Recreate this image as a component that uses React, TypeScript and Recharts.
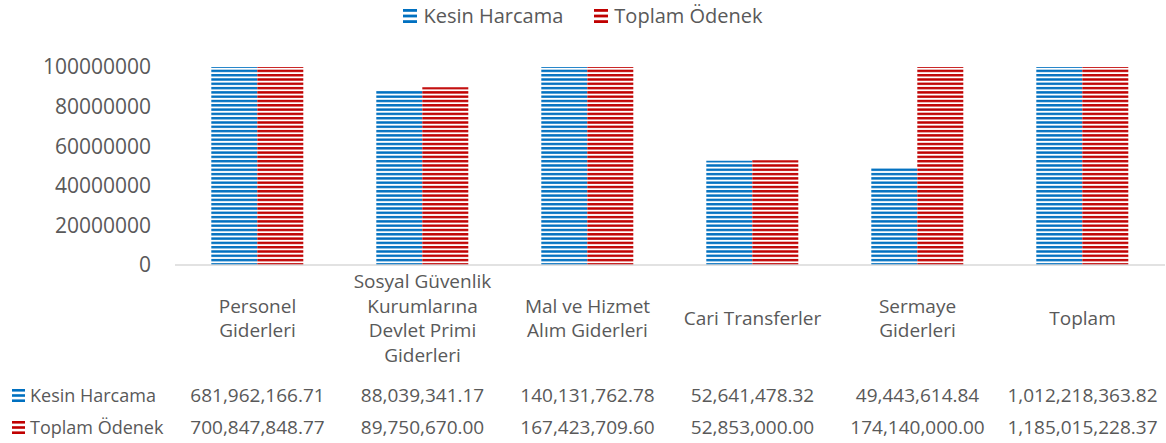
import React from 'react';
import { BarChart, Bar, XAxis, YAxis } from 'recharts';

const categories = [
  'Personel\nGiderleri',
  'Sosyal Güvenlik\nKurumlarına\nDevlet Primi\nGiderleri',
  'Mal ve Hizmet\nAlım Giderleri',
  'Cari Transferler',
  'Sermaye\nGiderleri',
  'Toplam',
];
const kesinHarcama = [681962166.71, 88039341.17, 140131762.78, 52641478.32, 49443614.84, 1012218363.82];
const toplamOdenek = [700847848.77, 89750670.0, 167423709.6, 52853000.0, 174140000.0, 1185015228.37];
const yTicks = [0, 20000000, 40000000, 60000000, 80000000, 100000000];

const seriesNames = ['Kesin Harcama', 'Toplam Ödenek'];
const BLUE = '#0070C0';
const RED = '#C00000';
const TEXT = '#595959';
const FONT = '"Open Sans", sans-serif';

const data = categories.map((name, i) => ({
  name,
  kesin: kesinHarcama[i],
  toplam: toplamOdenek[i],
}));

const fmt = (v: number) =>
  v.toLocaleString('en-US', { minimumFractionDigits: 2, maximumFractionDigits: 2 });

// little striped square used in legend and data table
function StripeIcon({ color, size = 14 }: { color: string; size?: number }) {
  const h = size / 5;
  return (
    <svg width={size} height={size} style={{ display: 'block' }}>
      {[0, 2, 4].map((k) => (
        <rect key={k} x={0} y={k * h} width={size} height={h} fill={color} />
      ))}
    </svg>
  );
}

function CategoryTick(props: any) {
  const { x, y, payload, index } = props;
  const lines: string[] = String(payload.value).split('\n');
  const lh = 24.7;
  const start = y + 53 - ((lines.length - 1) * lh) / 2;
  return (
    <g fontFamily={FONT} fontSize={19} fill={TEXT}>
      {lines.map((l, i) => (
        <text key={i} x={x} y={start + i * lh} textAnchor="middle" dominantBaseline="central">
          {l}
        </text>
      ))}
      <text x={x} y={y + 130} textAnchor="middle" dominantBaseline="central">
        {fmt(kesinHarcama[index])}
      </text>
      <text x={x} y={y + 162} textAnchor="middle" dominantBaseline="central">
        {fmt(toplamOdenek[index])}
      </text>
    </g>
  );
}

const seriesKeys = [
  { name: seriesNames[0], color: BLUE },
  { name: seriesNames[1], color: RED },
];

export default function App() {
  return (
    <div style={{ position: 'absolute', left: 0, top: 0, width: 1166, height: 443, background: '#fff' }}>
      <BarChart
        width={1166}
        height={443}
        data={data}
        margin={{ top: 67, right: 1, left: 0, bottom: 0 }}
        barCategoryGap="22%"
        barGap={0}
      >
        <defs>
          <pattern id="stripeBlue" patternUnits="userSpaceOnUse" width={8} height={4.3}>
            <rect width={8} height={4.3} fill="#fff" />
            <rect y={0.9} width={8} height={2.4} fill={BLUE} />
          </pattern>
          <pattern id="stripeRed" patternUnits="userSpaceOnUse" width={8} height={4.3}>
            <rect width={8} height={4.3} fill="#fff" />
            <rect y={0.9} width={8} height={2.4} fill={RED} />
          </pattern>
        </defs>
        <XAxis
          dataKey="name"
          interval={0}
          height={178}
          tickLine={false}
          tickSize={0}
          tickMargin={0}
          axisLine={{ stroke: '#d9d9d9', strokeWidth: 1.5 }}
          tick={<CategoryTick />}
        />
        <YAxis
          width={175}
          domain={[0, 100000000]}
          ticks={yTicks}
          allowDataOverflow
          axisLine={false}
          tickLine={false}
          tickSize={0}
          tickMargin={24}
          tick={{ fontFamily: FONT, fontSize: 21, fill: TEXT }}
        />
        <Bar dataKey="kesin" name={seriesNames[0]} fill="url(#stripeBlue)" isAnimationActive={false} />
        <Bar dataKey="toplam" name={seriesNames[1]} fill="url(#stripeRed)" isAnimationActive={false} />
      </BarChart>
      {/* legend on top */}
      <div
        style={{
          position: 'absolute',
          top: 2,
          left: 0,
          width: 1166,
          display: 'flex',
          justifyContent: 'center',
          gap: 31,
          fontFamily: FONT,
          fontSize: 20,
          color: TEXT,
        }}
      >
        {seriesKeys.map((it) => (
          <div key={it.name} style={{ display: 'flex', alignItems: 'center', gap: 6 }}>
            <StripeIcon color={it.color} />
            <span>{it.name}</span>
          </div>
        ))}
      </div>
      {/* data table row headers */}
      <div style={{ position: 'absolute', left: 12, top: 379, fontFamily: FONT, fontSize: 18, color: TEXT }}>
        {seriesKeys.map((it) => (
          <div key={it.name} style={{ display: 'flex', alignItems: 'center', gap: 5, height: 32 }}>
            <StripeIcon color={it.color} size={13} />
            <span>{it.name}</span>
          </div>
        ))}
      </div>
    </div>
  );
}
